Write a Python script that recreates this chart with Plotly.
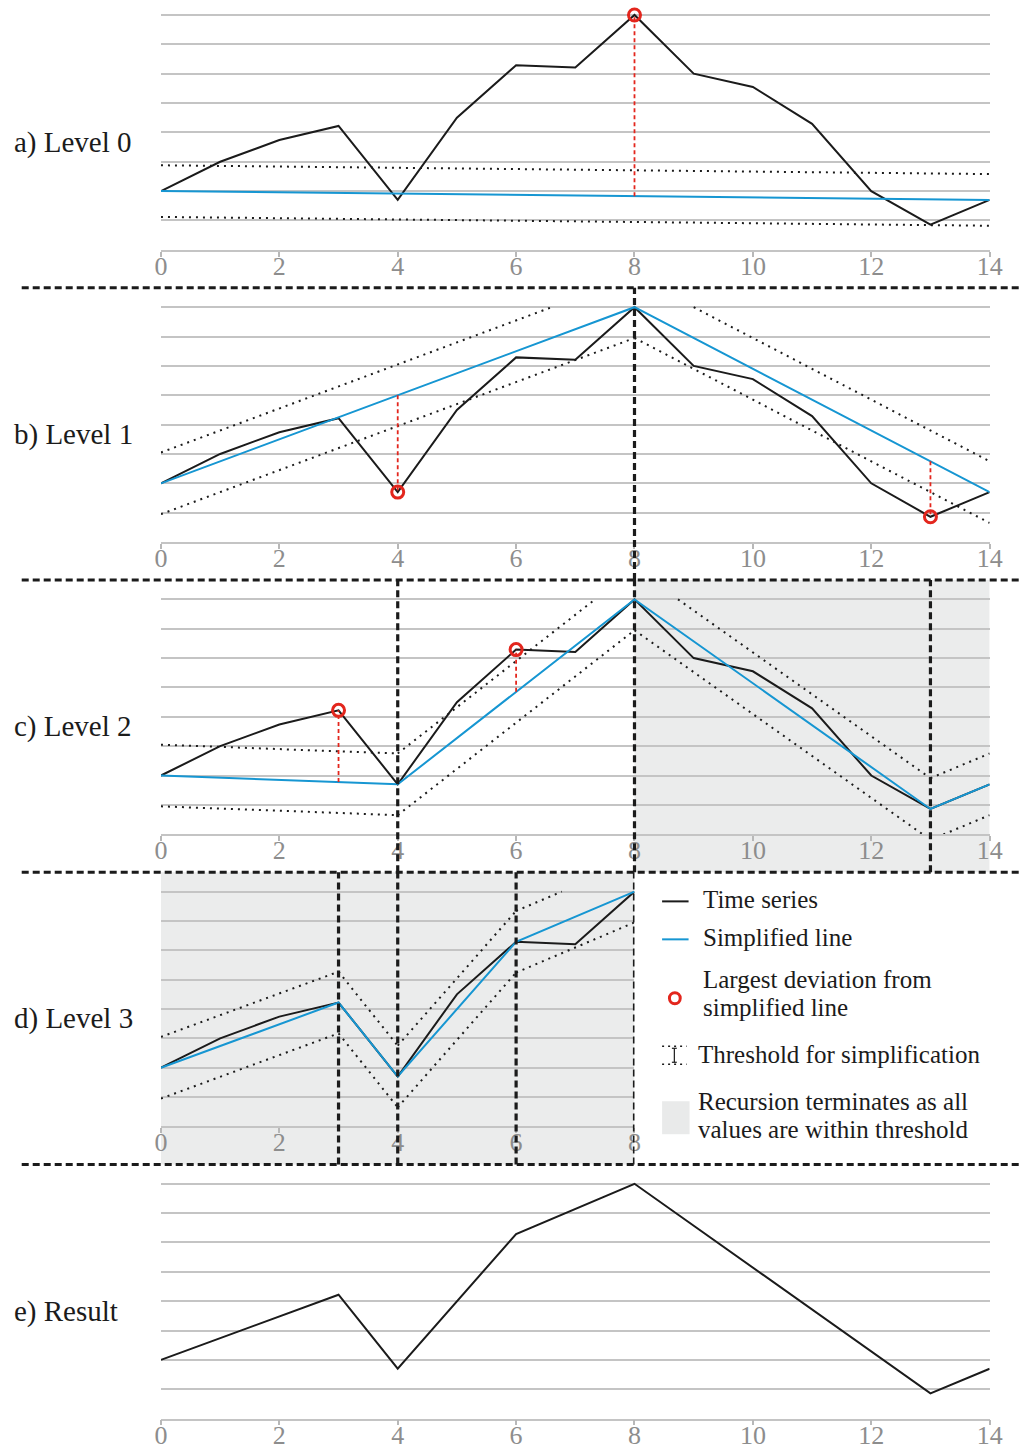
import numpy as np
import plotly.graph_objects as go

# ---------------------------------------------------------------- data
TIME = list(range(15))
SERIES = [2.0, 3.0, 3.74, 4.22, 1.70, 4.50, 6.29, 6.21, 8.0, 6.0, 5.55, 4.29, 2.0, 0.86, 1.70]

# breakpoints of the simplified line at each recursion level
BREAKS_A = [0, 14]
BREAKS_B = [0, 8, 14]
BREAKS_C = [0, 4, 8, 13, 14]
BREAKS_D = [0, 3, 4, 6, 8]
RESULT_BREAKS = [0, 3, 4, 6, 8, 13, 14]

# points of largest deviation found at each level
DEVIATION_A = [8]
DEVIATION_B = [4, 13]
DEVIATION_C = [3, 6]
DEVIATION_D = []

# split positions (vertical dashed) and finished ranges (grey)
SPLITS_B = [8]
SPLITS_C = [4, 8, 13]
SPLITS_D = [3, 4, 6, 8]
DONE_C = [8, 14]
DONE_D = [0, 8]

# simplification threshold (vertical distance) per level
THRESHOLDS = [0.88, 1.05, 1.05, 1.05]

# visible x extent of each level panel (level 3 leaves room for the key)
X_EXTENT = [14, 14, 14, 8, 14]

PANEL_LABELS = ["a) Level 0", "b) Level 1", "c) Level 2", "d) Level 3", "e) Result"]
X_TICKS = [0, 2, 4, 6, 8, 10, 12, 14]
Y_GRID = [1, 2, 3, 4, 5, 6, 7, 8]

LEGEND_ITEMS = ["Time series", "Simplified line",
                "Largest deviation from", "simplified line",
                "Threshold for simplification",
                "Recursion terminates as all", "values are within threshold"]

# ---------------------------------------------------------------- style / geometry
W, H = 1035, 1450
FONT = "Liberation Serif, Times New Roman, DejaVu Serif, serif"
BLACK = "#1b1b1b"
BLUE = "#1696d2"
RED = "#e3261d"
GRID = "#c4c4c4"
TICK_GREY = "#8d8d8d"
SHADE = "#ebecec"

X_LEFT_PX, X_RIGHT_PX = 157, 1002
PX_PER_X = (X_RIGHT_PX - X_LEFT_PX) / 14.0
AXIS0_PX = 250.0
STEP_PX = 292.4
GRID_SPAN_PX = 235.0      # pixels between y=0 and y=8
Y_MAX = 8.1
Y_CLIP = 8.0
SEP_OFFSET_PX = 38.0      # dashed separator below each x axis


def py(p):
    return 1 - p / H


def px(p):
    return p / W


def axis_px(i):
    return AXIS0_PX + i * STEP_PX


def sep_px(i):
    return axis_px(i) + SEP_OFFSET_PX


def clip_segment(x0, y0, x1, y1, ymax):
    if y0 > ymax and y1 > ymax:
        return None
    if y0 <= ymax and y1 <= ymax:
        return (x0, y0, x1, y1)
    t = (ymax - y0) / (y1 - y0)
    xc = x0 + t * (x1 - x0)
    if y0 > ymax:
        return (xc, ymax, x1, y1)
    return (x0, y0, xc, ymax)


fig = go.Figure()
layout = dict(
    width=W, height=H, margin=dict(l=0, r=0, t=0, b=0),
    paper_bgcolor="white", plot_bgcolor="rgba(0,0,0,0)",
    showlegend=False, shapes=[], annotations=[],
)

series = np.array(SERIES)
levels = [
    (BREAKS_A, DEVIATION_A, [], None),
    (BREAKS_B, DEVIATION_B, SPLITS_B, None),
    (BREAKS_C, DEVIATION_C, SPLITS_C, DONE_C),
    (BREAKS_D, DEVIATION_D, SPLITS_D, DONE_D),
]

for i in range(5):
    n = "" if i == 0 else str(i + 1)
    xa, ya = "x" + n, "y" + n
    a_px = axis_px(i)
    top_px = a_px - GRID_SPAN_PX * Y_MAX / 8.0
    xmax = X_EXTENT[i]
    layout["xaxis" + n] = dict(
        domain=[px(X_LEFT_PX), px(X_LEFT_PX + PX_PER_X * xmax)], anchor=ya, range=[0, xmax],
        tickvals=[t for t in X_TICKS if t <= xmax], ticks="outside", ticklen=5,
        tickwidth=1.5, tickcolor="#b8b8b8", ticklabelstandoff=-13,
        showline=True, linecolor=GRID, linewidth=1.5, showgrid=False, zeroline=False,
        tickfont=dict(family=FONT, size=26, color=TICK_GREY), fixedrange=True,
    )
    layout["yaxis" + n] = dict(
        domain=[py(a_px), py(top_px)], anchor=xa, range=[0, Y_MAX],
        tickvals=Y_GRID, showticklabels=False, showgrid=True, gridcolor=GRID,
        gridwidth=1.5, zeroline=False, showline=False, ticks="", fixedrange=True,
    )
    # panel label
    layout["annotations"].append(dict(
        text=PANEL_LABELS[i], xref="paper", yref="paper", x=px(5), y=py(a_px - 107.5),
        xanchor="left", yanchor="middle", showarrow=False,
        font=dict(family=FONT, size=29, color=BLACK)))

    if i == 4:
        rx = RESULT_BREAKS
        fig.add_trace(go.Scatter(x=rx, y=[SERIES[k] for k in rx], xaxis=xa, yaxis=ya,
                                 mode="lines", line=dict(color=BLACK, width=2)))
        continue

    breaks, devs, splits, done = levels[i]
    thr = THRESHOLDS[i]

    # grey band for ranges where recursion has ended
    if done is not None:
        layout["shapes"].append(dict(
            type="rect", xref=xa, yref="paper", x0=done[0], x1=done[1],
            y0=py(sep_px(i)), y1=py(sep_px(i - 1)), fillcolor=SHADE,
            line=dict(width=0), layer="below"))

    # threshold corridors
    dx, dy = [], []
    for b0, b1 in zip(breaks[:-1], breaks[1:]):
        for sgn in (1, -1):
            seg = clip_segment(b0, SERIES[b0] + sgn * thr, b1, SERIES[b1] + sgn * thr, Y_CLIP)
            if seg:
                dx += [seg[0], seg[2], None]
                dy += [seg[1], seg[3], None]
    fig.add_trace(go.Scatter(x=dx, y=dy, xaxis=xa, yaxis=ya, mode="lines",
                             line=dict(color=BLACK, width=2, dash="2px,5px")))

    # time series
    tx = [t for t in TIME if t <= xmax]
    fig.add_trace(go.Scatter(x=tx, y=[SERIES[t] for t in tx], xaxis=xa, yaxis=ya,
                             mode="lines", line=dict(color=BLACK, width=2)))
    # simplified line
    fig.add_trace(go.Scatter(x=breaks, y=[SERIES[k] for k in breaks], xaxis=xa, yaxis=ya,
                             mode="lines", line=dict(color=BLUE, width=2)))

    # largest deviations
    if devs:
        bvals = series[breaks]
        rx_, ry_ = [], []
        for d in devs:
            rx_ += [d, d, None]
            ry_ += [float(np.interp(d, breaks, bvals)), SERIES[d], None]
        fig.add_trace(go.Scatter(x=rx_, y=ry_, xaxis=xa, yaxis=ya, mode="lines",
                                 line=dict(color=RED, width=1.8, dash="4px,3px")))
        fig.add_trace(go.Scatter(x=devs, y=[SERIES[d] for d in devs], xaxis=xa, yaxis=ya,
                                 mode="markers", cliponaxis=False,
                                 marker=dict(symbol="circle-open", size=12, color=RED,
                                             line=dict(width=3, color=RED))))

    # split positions
    for s in splits:
        layout["shapes"].append(dict(
            type="line", xref=xa, yref="paper", x0=s, x1=s,
            y0=py(sep_px(i)), y1=py(sep_px(i - 1)),
            line=dict(color=BLACK, width=3.2, dash="7px,4px")))

# horizontal separators between levels
for i in range(4):
    layout["shapes"].append(dict(
        type="line", xref="paper", yref="paper", x0=px(15), x1=1,
        y0=py(sep_px(i)), y1=py(sep_px(i)),
        line=dict(color=BLACK, width=3, dash="7px,4px")))

# ---------------------------------------------------------------- legend
LX0, LX1 = 668, 695
legend_shapes = [
    dict(type="line", x0=px(LX0), x1=px(LX1), y0=py(902), y1=py(902),
         line=dict(color=BLACK, width=2)),
    dict(type="line", x0=px(LX0), x1=px(LX1), y0=py(940), y1=py(940),
         line=dict(color=BLUE, width=2)),
    dict(type="circle", x0=px(675.5), x1=px(686.5), y0=py(1004.5), y1=py(993.5),
         line=dict(color=RED, width=3)),
    dict(type="line", x0=px(LX0), x1=px(693), y0=py(1047), y1=py(1047),
         line=dict(color=BLACK, width=1.6, dash="2px,4px")),
    dict(type="line", x0=px(LX0), x1=px(693), y0=py(1065), y1=py(1065),
         line=dict(color=BLACK, width=1.6, dash="2px,4px")),
    dict(type="line", x0=px(680.5), x1=px(680.5), y0=py(1049), y1=py(1063),
         line=dict(color=BLACK, width=1.2)),
    dict(type="line", x0=px(678), x1=px(683), y0=py(1049), y1=py(1049),
         line=dict(color=BLACK, width=1.2)),
    dict(type="line", x0=px(678), x1=px(683), y0=py(1063), y1=py(1063),
         line=dict(color=BLACK, width=1.2)),
    dict(type="rect", x0=px(668), x1=px(696), y0=py(1135), y1=py(1102),
         fillcolor="#e9eaea", line=dict(width=0)),
]
for s in legend_shapes:
    s.update(xref="paper", yref="paper")
    layout["shapes"].append(s)

legend_pos = [(708, 900), (708, 938), (708, 980), (708, 1008),
              (703, 1055), (703, 1102), (703, 1130)]
for txt, (lx, ly) in zip(LEGEND_ITEMS, legend_pos):
    layout["annotations"].append(dict(
        text=txt, xref="paper", yref="paper", x=px(lx), y=py(ly),
        xanchor="left", yanchor="middle", showarrow=False,
        font=dict(family=FONT, size=25, color=BLACK)))

fig.update_layout(**layout)
fig.write_html("out.html")
